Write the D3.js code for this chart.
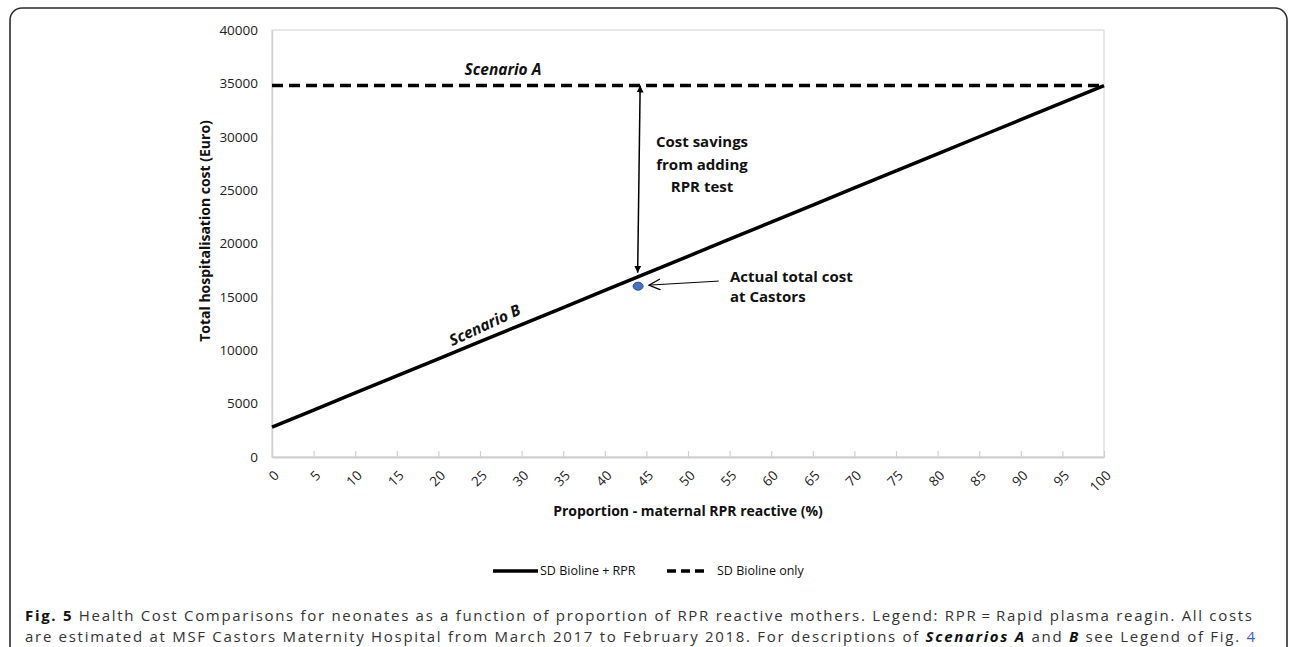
<!DOCTYPE html>
<html><head><meta charset="utf-8">
<script src="https://cdn.jsdelivr.net/npm/d3@7"></script>
<style>
html,body{margin:0;padding:0;background:#fff;}
svg text{font-family:"Open Sans",sans-serif;}
</style></head>
<body><svg id="chart" width="1290" height="647"></svg>
<script>
// ---------- data ----------
const proportions = [0,5,10,15,20,25,30,35,40,45,50,55,60,65,70,75,80,85,90,95,100];
const scenarioB = [2800,4400,6000,7600,9200,10800,12400,14000,15600,17200,18800,20400,22000,23600,25200,26800,28400,30000,31600,33200,34800];
const scenarioA = [34800,34800,34800,34800,34800,34800,34800,34800,34800,34800,34800,34800,34800,34800,34800,34800,34800,34800,34800,34800,34800];
const actualPoint = [{p:44, v:16000}];
const yTicks = [0,5000,10000,15000,20000,25000,30000,35000,40000];
const xTicks = proportions;
const savingsArrow = [{p:44.25, v:34800},{p:43.95, v:16880}];
const actualArrow = [{p:53.7, v:16480},{p:45.3, v:16100}];
const legendItems = ["SD Bioline + RPR","SD Bioline only"];

const svg = d3.select("#chart");
const M = {left:272, right:1104, top:30, bottom:457};
const x = d3.scaleLinear().domain([0,100]).range([M.left, M.right]);
const y = d3.scaleLinear().domain([0,40000]).range([M.bottom, M.top]);

// frame
svg.append("rect").attr("x",10).attr("y",8).attr("width",1277).attr("height",650)
  .attr("rx",12).attr("fill","none").attr("stroke","#2b2b2b").attr("stroke-width",1.6);

// markers
const defs = svg.append("defs");
defs.append("marker").attr("id","tri").attr("viewBox","0 0 10 10").attr("refX",10).attr("refY",5)
  .attr("markerWidth",7).attr("markerHeight",8).attr("markerUnits","userSpaceOnUse").attr("orient","auto-start-reverse")
  .append("path").attr("d","M0,0L10,5L0,10Z").attr("fill","#000");
defs.append("marker").attr("id","open").attr("viewBox","0 0 10 10").attr("refX",9.5).attr("refY",5)
  .attr("markerWidth",12).attr("markerHeight",12).attr("markerUnits","userSpaceOnUse").attr("orient","auto")
  .append("path").attr("d","M0,0.5L9.5,5L0,9.5").attr("fill","none").attr("stroke","#000").attr("stroke-width",1);

// plot border
svg.append("rect").attr("x",M.left).attr("y",M.top).attr("width",M.right-M.left).attr("height",M.bottom-M.top)
  .attr("fill","none").attr("stroke","#d9d9d9").attr("stroke-width",1.2);

// x axis (inner ticks)
const xAxis = svg.append("g").attr("transform",`translate(0,${M.bottom})`)
  .call(d3.axisBottom(x).tickValues(xTicks).tickSizeInner(-6).tickSizeOuter(0).tickFormat(d3.format("d")));
xAxis.select(".domain").attr("stroke","#d0d0d0").attr("stroke-width",2);
xAxis.selectAll(".tick line").attr("stroke","#d0d0d0").attr("stroke-width",1.2);
xAxis.selectAll(".tick text").attr("font-size",13.5).attr("fill","#222")
  .attr("text-anchor","end").attr("dy","0.35em").attr("y",0)
  .attr("transform","translate(4,16) rotate(-45)");

// y axis
const yAxis = svg.append("g").attr("transform",`translate(${M.left},0)`)
  .call(d3.axisLeft(y).tickValues(yTicks).tickSize(0).tickPadding(14).tickFormat(d3.format("d")));
yAxis.select(".domain").attr("stroke","#d0d0d0").attr("stroke-width",1.5);
yAxis.selectAll(".tick text").attr("font-size",13.5).attr("fill","#222");

// axis titles
svg.append("text").attr("x",688).attr("y",516).attr("text-anchor","middle")
  .attr("font-size",14).attr("font-weight","bold").attr("fill","#111")
  .text("Proportion - maternal RPR reactive (%)");
svg.append("text").attr("transform","translate(210,231) rotate(-90)").attr("text-anchor","middle")
  .attr("font-size",14).attr("font-weight","bold").attr("fill","#111")
  .text("Total hospitalisation cost (Euro)");

// lines
const line = d3.line().x((d,i)=>x(proportions[i])).y(d=>y(d));
svg.append("path").datum(scenarioA).attr("d",line).attr("fill","none")
  .attr("stroke","#000").attr("stroke-width",3.5).attr("stroke-dasharray","11,6");
svg.append("path").datum(scenarioB).attr("d",line).attr("fill","none")
  .attr("stroke","#000").attr("stroke-width",3.5);

// actual point
svg.selectAll(".pt").data(actualPoint).enter().append("ellipse")
  .attr("cx",d=>x(d.p)).attr("cy",d=>y(d.v)).attr("rx",5).attr("ry",4)
  .attr("fill","#4472C4").attr("stroke","#2f4f7f").attr("stroke-width",1);

// savings double arrow
svg.append("line").attr("x1",x(savingsArrow[0].p)).attr("y1",y(savingsArrow[0].v))
  .attr("x2",x(savingsArrow[1].p)).attr("y2",y(savingsArrow[1].v)-4)
  .attr("stroke","#000").attr("stroke-width",1.5)
  .attr("marker-start","url(#tri)").attr("marker-end","url(#tri)");

// actual callout arrow
svg.append("line").attr("x1",x(actualArrow[0].p)).attr("y1",y(actualArrow[0].v))
  .attr("x2",x(actualArrow[1].p)).attr("y2",y(actualArrow[1].v))
  .attr("stroke","#000").attr("stroke-width",1).attr("marker-end","url(#open)");

// annotations
const savT = svg.append("text").attr("text-anchor","middle").attr("font-size",15)
  .attr("font-weight","bold").attr("fill","#111");
["Cost savings","from adding","RPR test"].forEach((t,i)=>
  savT.append("tspan").attr("x",702).attr("y",147+i*22.5).text(t));
const actT = svg.append("text").attr("text-anchor","start").attr("font-size",15)
  .attr("font-weight","bold").attr("fill","#111");
["Actual total cost","at Castors"].forEach((t,i)=>
  actT.append("tspan").attr("x",730).attr("y",282+i*20).text(t));

svg.append("text").attr("x",503).attr("y",75).attr("text-anchor","middle")
  .attr("font-size",15.5).attr("font-weight","bold").attr("font-style","italic").attr("fill","#111")
  .text("Scenario A");
svg.append("text").attr("transform","translate(487,330) rotate(-25)").attr("text-anchor","middle")
  .attr("font-size",15.5).attr("font-weight","bold").attr("font-style","italic").attr("fill","#111")
  .text("Scenario B");

// legend
const lg = svg.append("g").attr("transform","translate(493,571)");
lg.append("line").attr("x1",0).attr("x2",45).attr("y1",0).attr("y2",0).attr("stroke","#000").attr("stroke-width",3.5);
lg.append("text").attr("x",47).attr("y",0).attr("dy","0.35em").attr("font-size",12.5).attr("fill","#111").text(legendItems[0]);
lg.append("line").attr("x1",174).attr("x2",215).attr("y1",0).attr("y2",0).attr("stroke","#000").attr("stroke-width",3.5).attr("stroke-dasharray","9,5");
lg.append("text").attr("x",224).attr("y",0).attr("dy","0.35em").attr("font-size",12.5).attr("fill","#111").text(legendItems[1]);

// caption
const cap1 = svg.append("text").attr("x",25).attr("y",621).attr("font-size",15).attr("fill","#333")
  .attr("textLength",1227).attr("lengthAdjust","spacing");
cap1.append("tspan").attr("font-weight","bold").attr("fill","#111").text("Fig. 5");
cap1.append("tspan").text(" Health Cost Comparisons for neonates as a function of proportion of RPR reactive mothers. Legend: RPR\u2009=\u2009Rapid plasma reagin. All costs");
const cap2 = svg.append("text").attr("x",25).attr("y",642).attr("font-size",15).attr("fill","#333")
  .attr("textLength",1230).attr("lengthAdjust","spacing");
cap2.append("tspan").text("are estimated at MSF Castors Maternity Hospital from March 2017 to February 2018. For descriptions of ");
cap2.append("tspan").attr("font-weight","bold").attr("font-style","italic").attr("fill","#111").text("Scenarios A");
cap2.append("tspan").text(" and ");
cap2.append("tspan").attr("font-weight","bold").attr("font-style","italic").attr("fill","#111").text("B");
cap2.append("tspan").text(" see Legend of Fig. ");
cap2.append("tspan").attr("fill","#3a5fcd").text("4");
</script></body></html>
